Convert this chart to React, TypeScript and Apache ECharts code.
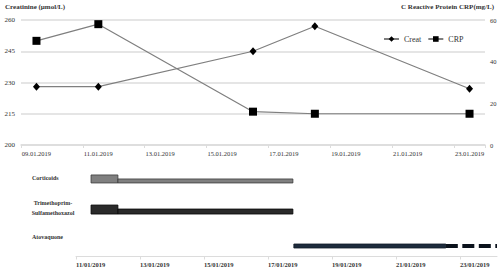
import React, { useEffect, useRef } from "react";
import * as echarts from "echarts";

// ---- data ----
const days = [
  "09.01.2019", "10.01.2019", "11.01.2019", "12.01.2019", "13.01.2019",
  "14.01.2019", "15.01.2019", "16.01.2019", "17.01.2019", "18.01.2019",
  "19.01.2019", "20.01.2019", "21.01.2019", "22.01.2019", "23.01.2019",
];
const creatDates = ["09.01.2019", "11.01.2019", "16.01.2019", "18.01.2019", "23.01.2019"];
const creatValues = [228, 228, 245, 257, 227];
const crpDates = ["09.01.2019", "11.01.2019", "16.01.2019", "18.01.2019", "23.01.2019"];
const crpValues = [50, 58, 16, 15, 15];

const drugs = ["Corticoids", "Trimethoprim-\nSulfamethoxazol", "Atovaquone"];
// treatment segments (day of January 2019)
const segDrug = [0, 0, 1, 1, 2, 2];
const segStart = [11.47, 12.31, 11.47, 12.31, 17.81, 22.56];
const segEnd = [12.31, 17.78, 12.31, 17.78, 22.56, 24.16];
const segKind = ["high", "low", "high", "low", "low", "ongoing"];
const ganttTickDays = [11, 13, 15, 17, 19, 21, 23];

// ---- layout / style ----
const FONT = "Liberation Serif";
const TXT = "#333";
const GRID = "#dcdcdc";
const ROW_BASE = [0.238, 0.56, 0.912]; // bottom edge of each lane, fraction of gantt grid height
const THICK_H = [8, 9, 4];
const THIN_H = [4, 5, 4];
const FILL = ["#808080", "#2a2a2a", "#1d2b3c"];
const STROKE = ["#3a3a3a", "#050505", "#101a26"];

export default function App() {
  const ref = useRef<HTMLDivElement>(null);
  useEffect(() => {
    if (!ref.current) return;
    const chart = echarts.init(ref.current, undefined, { renderer: "svg" });
    const ganttData = segDrug.map((d, i) => [d, segStart[i], segEnd[i], segKind[i] === "high" ? 0 : segKind[i] === "low" ? 1 : 2]);
    chart.setOption({
      animation: false,
      textStyle: { fontFamily: FONT, color: TXT },
      legend: {
        data: ["Creat", "CRP"],
        left: 378,
        top: 30,
        itemWidth: 15,
        itemHeight: 7,
        itemGap: 6,
        textStyle: { fontFamily: FONT, fontSize: 8, color: TXT },
      },
      grid: [
        { left: 21, right: 15, top: 20, height: 125 },
        { left: 76, right: 3, top: 160, height: 96.5 },
      ],
      xAxis: [
        {
          type: "category",
          gridIndex: 0,
          data: days,
          boundaryGap: true,
          axisLine: { lineStyle: { color: GRID, width: 1.5 } },
          axisTick: { show: true, interval: 1, length: 3, lineStyle: { color: GRID } },
          axisLabel: { interval: 1, fontSize: 6.5, margin: 5, color: TXT, fontFamily: FONT },
          splitLine: { show: false },
        },
        {
          type: "value",
          gridIndex: 1,
          min: 11,
          max: 24.16,
          position: "bottom",
          axisLine: { show: true, onZero: false, lineStyle: { color: GRID, width: 1 } },
          axisTick: { show: true, length: 3, lineStyle: { color: GRID }, customValues: ganttTickDays },
          axisLabel: {
            customValues: ganttTickDays,
            fontSize: 6.5,
            fontWeight: "bold",
            margin: 4,
            align: "left",
            color: TXT,
            fontFamily: FONT,
            formatter: (v: number) => `${String(Math.round(v)).padStart(2, "0")}/01/2019`,
          },
          splitLine: { show: false },
        },
      ],
      yAxis: [
        {
          type: "value",
          gridIndex: 0,
          min: 200,
          max: 260,
          interval: 15,
          axisLine: { show: false },
          axisTick: { show: false },
          axisLabel: { fontSize: 7, margin: 6, color: TXT, fontFamily: FONT },
          splitLine: { lineStyle: { color: GRID, width: 1.5 } },
        },
        {
          type: "value",
          gridIndex: 0,
          min: 0,
          max: 60,
          interval: 20,
          position: "right",
          axisLine: { show: false },
          axisTick: { show: false },
          axisLabel: { fontSize: 6.5, margin: 5, color: TXT, fontFamily: FONT },
          splitLine: { show: false },
        },
        {
          type: "value",
          gridIndex: 1,
          min: 0,
          max: 1,
          inverse: true,
          show: false,
        },
      ],
      series: [
        {
          name: "Creat",
          type: "line",
          xAxisIndex: 0,
          yAxisIndex: 0,
          data: creatDates.map((d, i) => [d, creatValues[i]]),
          symbol: "diamond",
          symbolSize: [7, 8],
          itemStyle: { color: "#000" },
          lineStyle: { color: "#7f7f7f", width: 1.2 },
        },
        {
          name: "CRP",
          type: "line",
          xAxisIndex: 0,
          yAxisIndex: 1,
          data: crpDates.map((d, i) => [d, crpValues[i]]),
          symbol: "rect",
          symbolSize: 8,
          itemStyle: { color: "#000" },
          lineStyle: { color: "#7f7f7f", width: 1.2 },
        },
        {
          type: "custom",
          xAxisIndex: 1,
          yAxisIndex: 2,
          data: ganttData,
          encode: { x: [1, 2] },
          renderItem: (_p: any, api: any) => {
            const row = api.value(0);
            const s = api.value(1);
            const e = api.value(2);
            const kind = api.value(3);
            const p0 = api.coord([s, ROW_BASE[row]]);
            const p1 = api.coord([e, ROW_BASE[row]]);
            if (kind === 2) {
              const h = THIN_H[row];
              return {
                type: "line",
                shape: { x1: p0[0], y1: p0[1] - h / 2, x2: p1[0], y2: p1[1] - h / 2 },
                style: { stroke: "#0b121c", lineWidth: h, lineDash: [12, 4.5] },
              };
            }
            const h = kind === 0 ? THICK_H[row] : THIN_H[row];
            return {
              type: "rect",
              shape: { x: p0[0], y: p0[1] - h, width: p1[0] - p0[0], height: h },
              style: { fill: FILL[row], stroke: STROKE[row], lineWidth: 0.8 },
            };
          },
        },
      ],
      graphic: [
        {
          type: "text",
          left: 5,
          top: 3,
          style: { text: "Creatinine (µmol/L)", font: `bold 7px "${FONT}"`, fill: TXT },
        },
        {
          type: "text",
          right: 6,
          top: 3,
          style: { text: "C Reactive Protein CRP(mg/L)", font: `bold 7px "${FONT}"`, fill: TXT },
        },
        {
          type: "text",
          x: 32,
          y: 178,
          style: { text: drugs[0], font: `bold 6px "${FONT}"`, fill: TXT, verticalAlign: "middle" },
        },
        {
          type: "text",
          x: 53,
          y: 208,
          style: {
            text: drugs[1],
            font: `bold 6px "${FONT}"`,
            fill: TXT,
            align: "center",
            verticalAlign: "middle",
            lineHeight: 10,
          },
        },
        {
          type: "text",
          x: 32,
          y: 237,
          style: { text: drugs[2], font: `bold 6px "${FONT}"`, fill: TXT, verticalAlign: "middle" },
        },
      ],
    });
    return () => chart.dispose();
  }, []);
  return (
    <div
      ref={ref}
      style={{ position: "fixed", left: 0, top: 0, width: 500, height: 269, background: "#fff" }}
    />
  );
}
